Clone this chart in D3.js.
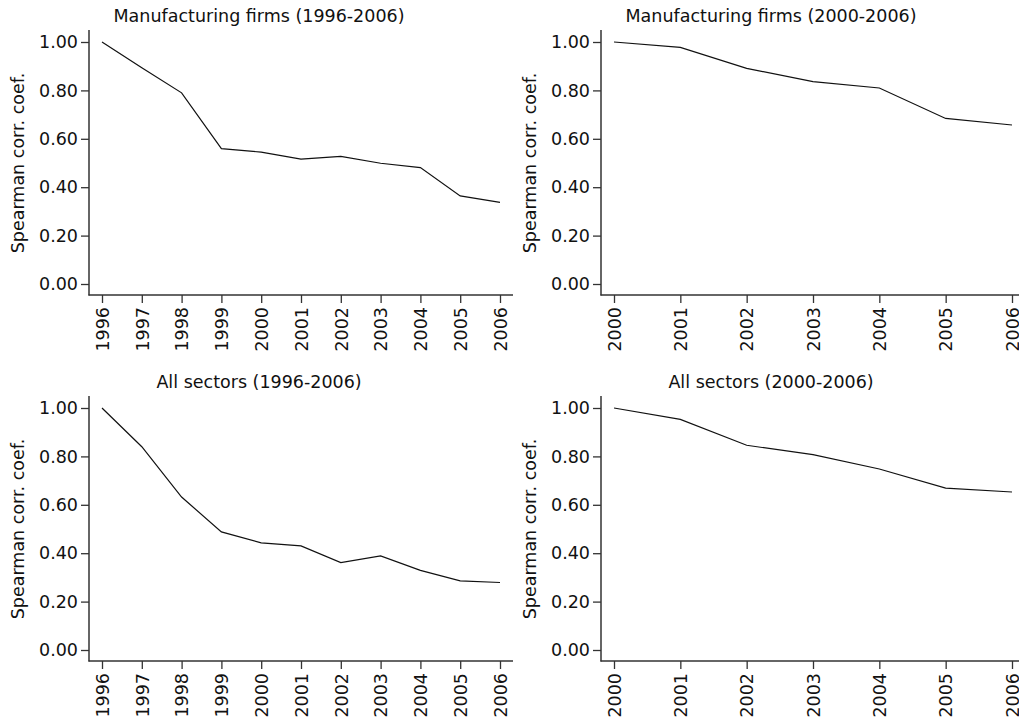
<!DOCTYPE html>
<html>
<head>
<meta charset="utf-8">
<script src="https://cdn.jsdelivr.net/npm/d3@7"></script>
<style>
  body { margin: 0; background: #fff; }
  text { font-family: "DejaVu Sans", sans-serif; fill: #111; }
</style>
</head>
<body>
<div id="chart"></div>
<script>
// data
const yearsLong = [1996, 1997, 1998, 1999, 2000, 2001, 2002, 2003, 2004, 2005, 2006];
const yearsShort = [2000, 2001, 2002, 2003, 2004, 2005, 2006];
const manufLong = [1.00, 0.894, 0.790, 0.559, 0.545, 0.516, 0.527, 0.499, 0.481, 0.364, 0.337];
const manufShort = [1.00, 0.978, 0.891, 0.836, 0.810, 0.684, 0.657];
const allLong = [1.00, 0.840, 0.632, 0.488, 0.443, 0.430, 0.361, 0.389, 0.329, 0.286, 0.279];
const allShort = [1.00, 0.953, 0.846, 0.807, 0.748, 0.669, 0.653];
const yTicks = [0, 0.2, 0.4, 0.6, 0.8, 1.0];
const titles = ["Manufacturing firms (1996-2006)", "Manufacturing firms (2000-2006)",
                "All sectors (1996-2006)", "All sectors (2000-2006)"];
const yLabel = "Spearman corr. coef.";

const W = 1019, H = 720;
const svg = d3.select("#chart").append("svg")
  .attr("width", W).attr("height", H);

// draw one panel; ox/oy = panel offset
function drawPanel(ox, oy, years, values, title) {
  const g = svg.append("g").attr("transform", `translate(${ox},${oy})`);

  const x = d3.scaleLinear()
    .domain([years[0], years[years.length - 1]])
    .range([102, 500]);
  const y = d3.scaleLinear().domain([0, 1]).range([284, 42]);

  // y axis
  const ya = g.append("g")
    .attr("transform", "translate(89,0)")
    .call(d3.axisLeft(y).tickValues(yTicks).tickFormat(d3.format(".2f"))
      .tickSize(8).tickPadding(3));
  ya.select(".domain").remove();
  ya.selectAll("line").attr("stroke", "#333").attr("stroke-width", 1.3);
  ya.selectAll("text").attr("font-size", 17.5).attr("fill", "#111")
    .style("font-family", "DejaVu Sans");

  // x axis
  const xa = g.append("g")
    .attr("transform", "translate(0,295)")
    .call(d3.axisBottom(x).tickValues(years).tickFormat(d3.format("d"))
      .tickSize(8));
  xa.select(".domain").remove();
  xa.selectAll("line").attr("stroke", "#333").attr("stroke-width", 1.3);
  xa.selectAll("text")
    .attr("font-size", 17.5).attr("fill", "#111")
    .style("font-family", "DejaVu Sans")
    .attr("text-anchor", "end")
    .attr("transform", "rotate(-90)")
    .attr("x", -12).attr("y", 0).attr("dy", "0.36em");

  // axis lines
  g.append("line").attr("x1", 89).attr("x2", 89).attr("y1", 30).attr("y2", 295.5)
    .attr("stroke", "#333").attr("stroke-width", 1.5);
  g.append("line").attr("x1", 88.5).attr("x2", 513).attr("y1", 295).attr("y2", 295)
    .attr("stroke", "#333").attr("stroke-width", 1.5);

  // series line
  g.append("path")
    .datum(years.map((d, i) => [d, values[i]]))
    .attr("fill", "none")
    .attr("stroke", "#111")
    .attr("stroke-width", 1.2)
    .attr("d", d3.line().x(d => x(d[0])).y(d => y(d[1])));

  // title
  g.append("text")
    .attr("x", 259).attr("y", 22)
    .attr("text-anchor", "middle")
    .attr("font-size", 17.5)
    .text(title);

  // y label
  g.append("text")
    .attr("transform", "translate(24,163) rotate(-90)")
    .attr("text-anchor", "middle")
    .attr("font-size", 17.5)
    .text(yLabel);
}

drawPanel(0, 0, yearsLong, manufLong, titles[0]);
drawPanel(512, 0, yearsShort, manufShort, titles[1]);
drawPanel(0, 366, yearsLong, allLong, titles[2]);
drawPanel(512, 366, yearsShort, allShort, titles[3]);
</script>
</body>
</html>
